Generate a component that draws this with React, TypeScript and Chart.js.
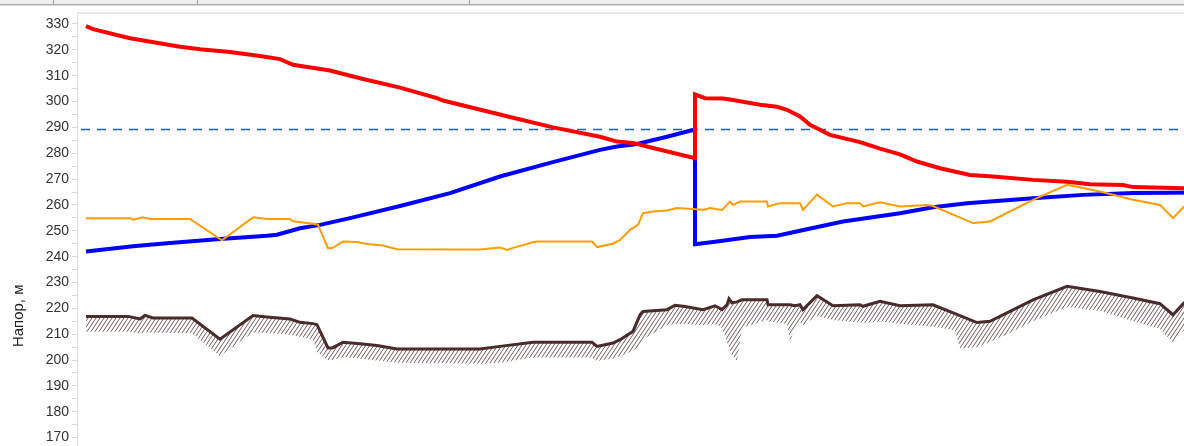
import React, { useEffect, useRef } from 'react';
import { Chart, registerables } from 'chart.js';

Chart.register(...registerables);

// Distance along the route, km
const headKm = [4.5, 8, 26.5, 51.5, 61.5, 76.5, 91.5, 101.5, 108, 126.5, 141.5, 161.5, 180, 183, 216.5, 238, 261.5, 270, 278, 286.5, 309, 309, 314, 323, 328, 341.5, 350, 355, 361.5, 366.5, 376.5, 391.5, 401.5, 411.5, 420, 431.5, 446.5, 458, 478, 495, 506.5, 523, 528, 553.5, 561.5];
const headM = [329.2, 328, 324.5, 321.2, 320.2, 319.2, 317.6, 316.4, 314.2, 312, 309, 305.4, 301.3, 300.4, 294, 290, 286.4, 284.5, 284, 282.3, 278.1, 302.8, 301.3, 301.2, 300.6, 298.8, 298, 296.8, 294.2, 291, 287.1, 284.3, 281.8, 279.6, 276.8, 274.2, 271.6, 271, 269.7, 269, 268, 267.7, 266.9, 266.5, 266.3];

const backKm = [4.5, 28, 45, 71.5, 95, 100, 111.5, 121.5, 136.5, 161.5, 186.5, 211.5, 236.5, 261.5, 270, 280, 295, 305, 309, 309, 320, 336.5, 350, 361.5, 383, 411.5, 428, 445, 461.5, 478, 503, 528, 561.5];
const backM = [242, 244, 245.2, 246.8, 248.1, 248.5, 251, 252.3, 254.9, 259.6, 264.6, 271, 276.3, 281.3, 282.6, 283.6, 286.4, 288.4, 289.2, 244.8, 245.9, 247.6, 248.1, 250, 253.6, 256.8, 259.1, 260.7, 261.6, 262.6, 263.9, 264.6, 264.8];

const limitKm = [4.5, 26.5, 28, 33, 36.5, 56.5, 72.5, 88, 95, 106.5, 108, 118, 120.5, 125.5, 128, 133, 140, 145, 153, 160, 201.5, 211.5, 215, 218, 228, 230, 257.5, 260, 268, 271.5, 276.5, 280.5, 283, 288, 295, 300, 308, 313, 316.5, 322.5, 326.5, 328, 331.5, 345, 345.5, 351.5, 361.5, 363, 370, 378, 385, 391.5, 393, 401.5, 411.5, 425, 428, 448, 456.5, 478, 495, 511.5, 521.5, 528, 541.5, 548, 553.5, 561.5];
const limitM = [254.9, 254.9, 254.3, 255.2, 254.6, 254.6, 246.3, 255.2, 254.6, 254.6, 253.7, 252.7, 252.3, 243.3, 243.4, 245.9, 245.7, 244.9, 244.3, 242.9, 242.8, 243.5, 242.6, 243.4, 245.6, 245.9, 245.9, 243.7, 245, 246.5, 250.4, 252.3, 256.8, 257.5, 257.9, 258.8, 258.4, 258.1, 258.8, 258.1, 261.3, 260, 261.3, 261.3, 259.4, 260.7, 260.7, 258.1, 264, 259.4, 260.7, 260.7, 259.4, 261, 259.4, 260, 259.6, 253, 253.6, 262, 267.8, 265.2, 263.3, 262, 260, 254.9, 259.4, 262];

const groundKm = [4.5, 25.5, 31.5, 34, 38, 57.5, 71.5, 88, 95, 106.5, 111.5, 118, 120, 125.5, 128, 133, 141.5, 150, 160, 201.5, 211.5, 228, 257.5, 260, 268, 271.5, 278, 281.5, 283, 295, 299, 304, 313, 319, 322.5, 325, 326, 327.5, 330, 332.5, 345, 345.5, 355, 356.5, 359, 361.5, 363, 370, 378, 391.5, 393, 401.5, 411.5, 428, 439, 441.5, 450, 456.5, 466.5, 478, 495, 511.5, 528, 541.5, 546.5, 548, 553.5, 561.5];
const groundM = [216.9, 216.9, 215.9, 217.3, 216.3, 216.3, 208.1, 217.2, 216.7, 215.9, 214.6, 214.1, 213.7, 204.7, 204.8, 206.9, 206.3, 205.6, 204.3, 204.3, 205.3, 206.9, 206.9, 205.3, 206.6, 207.9, 211.1, 217.5, 218.8, 219.5, 221.2, 220.7, 219.5, 221, 219.5, 221.4, 223.7, 222.1, 222.5, 223.3, 223.3, 221.4, 221.4, 221.4, 221, 221.4, 219.5, 224.9, 221, 221.4, 220.8, 222.7, 221, 221.4, 218, 217.2, 214.5, 215, 218.8, 223.3, 228.5, 226.5, 224, 221.8, 218.5, 217.5, 222.1, 223.5];
const hatchM = [211, 211, 210.3, 210.8, 210.6, 210.4, 201.5, 210.7, 210.5, 209.8, 209, 208, 203, 200, 200, 201.2, 200.5, 199.8, 199, 198.6, 199, 201, 201, 199.6, 200.6, 201.5, 203.5, 205.5, 208, 213.5, 214, 214, 213.5, 214, 212.5, 207, 205, 202, 199.5, 212.5, 215.5, 215, 214, 207.5, 212.5, 214.5, 213.5, 217, 215.5, 214.5, 214.3, 215, 214, 213, 211.5, 204.5, 205, 207, 210.5, 215, 220.5, 219, 215, 212, 208, 207, 211.5, 213.5];

const levelKm = [0, 561.5];
const levelM = [289.2, 289.2];

const yTicks = [100, 105, 110, 115, 120, 125, 130, 135, 140, 145, 150, 155, 160, 165, 170, 175, 180, 185, 190, 195, 200, 205, 210, 215, 220, 225, 230, 235, 240, 245, 250, 255, 260, 265, 270, 275, 280, 285, 290, 295, 300, 305, 310, 315, 320, 325, 330];

const pts = (xs: number[], ys: number[]) => xs.map((x, i) => ({ x, y: ys[i] }));

export default function App() {
  const ref = useRef<HTMLCanvasElement>(null);

  useEffect(() => {
    const canvas = ref.current;
    if (!canvas) return;
    const pc = document.createElement('canvas');
    pc.width = 4;
    pc.height = 6;
    const p = pc.getContext('2d')!;
    p.strokeStyle = '#5e4848';
    p.lineWidth = 0.9;
    p.beginPath();
    p.moveTo(0, 6); p.lineTo(4, 0);
    p.moveTo(-4, 6); p.lineTo(0, 0);
    p.moveTo(4, 6); p.lineTo(8, 0);
    p.stroke();
    const ctx = canvas.getContext('2d')!;
    const hatch = ctx.createPattern(pc, 'repeat');

    const topBorder = {
      id: 'topBorder',
      beforeDatasetsDraw(chart: any) {
        const { ctx: c, chartArea } = chart;
        c.save();
        c.fillStyle = '#e9e9e9';
        c.fillRect(chartArea.left, chartArea.top - 1, chartArea.right - chartArea.left, 2);
        c.restore();
      },
    };

    const chart = new Chart(canvas, {
      type: 'line',
      data: {
        datasets: [
          { label: 'limit', data: pts(limitKm, limitM), borderColor: '#ff9c00', borderWidth: 2, pointRadius: 0, tension: 0, fill: false, order: 0 },
          { label: 'head', data: pts(headKm, headM), borderColor: '#ff0000', borderWidth: 4, pointRadius: 0, tension: 0, fill: false, order: 1 },
          { label: 'back', data: pts(backKm, backM), borderColor: '#0000ff', borderWidth: 4, pointRadius: 0, tension: 0, fill: false, order: 2 },
          { label: 'level', data: pts(levelKm, levelM), borderColor: '#1f63b0', borderWidth: 1.5, borderDash: [9, 7], borderDashOffset: 12, pointRadius: 0, tension: 0, fill: false, order: 3 },
          { label: 'ground', data: pts(groundKm, groundM), borderColor: '#4a2a2a', borderWidth: 3, pointRadius: 0, tension: 0, fill: false, order: 4 },
          { label: 'hatch', data: pts(groundKm, hatchM), borderColor: 'rgba(0,0,0,0)', borderWidth: 0, backgroundColor: hatch as any, pointRadius: 0, tension: 0, fill: 4, order: 5 },
        ],
      },
      options: {
        animation: false,
        responsive: false,
        devicePixelRatio: 1,
        layout: { padding: { top: 13, bottom: 11, left: 0, right: 0 } },
        plugins: { legend: { display: false }, tooltip: { enabled: false } },
        scales: {
          x: { type: 'linear', min: 0, max: 561.5, display: false },
          y: {
            type: 'linear',
            min: 100,
            max: 334.25,
            afterBuildTicks: (scale: any) => { scale.ticks = yTicks.map((v) => ({ value: v })); },
            afterFit: (scale: any) => { scale.width = 77; },
            ticks: {
              autoSkip: false,
              padding: 3,
              color: '#333333',
              font: { family: '"Liberation Sans", Arial, sans-serif', size: 14 },
              callback: (v: any) => (Number(v) % 10 === 0 ? String(v) : ''),
            },
            grid: { drawOnChartArea: false, drawTicks: true, tickLength: 5, color: '#d6d6d6' },
            border: { display: true, color: '#dcdcdc', width: 1 },
            title: {
              display: true,
              text: 'Напор, м',
              color: '#222222',
              font: { family: '"Liberation Sans", Arial, sans-serif', size: 15 },
              padding: { top: 10, bottom: 0 },
            },
          },
        },
      },
      plugins: [topBorder],
    });
    return () => chart.destroy();
  }, []);

  return (
    <div style={{ position: 'fixed', left: 0, top: 0, width: 1184, height: 446, overflow: 'hidden', background: '#ffffff' }}>
      <canvas ref={ref} width={1200} height={630} style={{ position: 'absolute', left: 0, top: 0, width: 1200, height: 630 }} />
      <div style={{ position: 'absolute', left: 0, top: 0, width: 1184, height: 4, background: '#efefef', borderBottom: '1px solid #a9a9a9' }} />
      <div style={{ position: 'absolute', left: 53, top: 0, width: 1, height: 4, background: '#9a9a9a' }} />
      <div style={{ position: 'absolute', left: 197, top: 0, width: 1, height: 4, background: '#9a9a9a' }} />
      <div style={{ position: 'absolute', left: 469, top: 0, width: 1, height: 4, background: '#9a9a9a' }} />
      <div style={{ position: 'absolute', left: 0, top: 5, width: 1184, height: 1, background: '#dddddd' }} />
    </div>
  );
}
